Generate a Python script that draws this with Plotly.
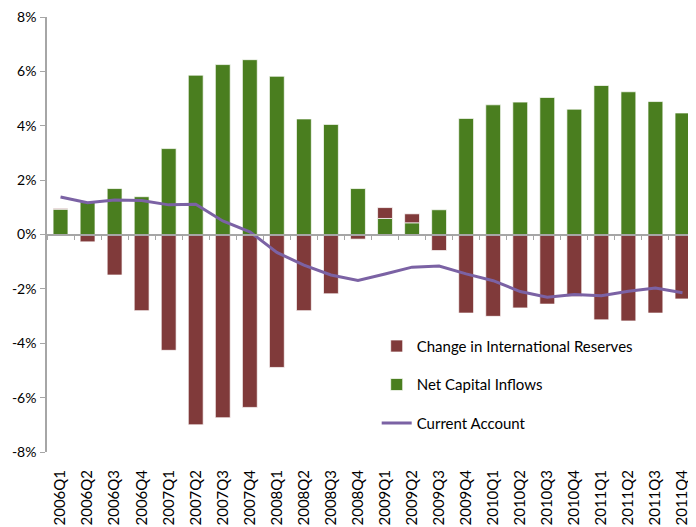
import plotly.graph_objects as go

quarters = ["2006Q1", "2006Q2", "2006Q3", "2006Q4",
            "2007Q1", "2007Q2", "2007Q3", "2007Q4",
            "2008Q1", "2008Q2", "2008Q3", "2008Q4",
            "2009Q1", "2009Q2", "2009Q3", "2009Q4",
            "2010Q1", "2010Q2", "2010Q3", "2010Q4",
            "2011Q1", "2011Q2", "2011Q3", "2011Q4"]

net_capital_inflows = [0.93, 1.20, 1.69, 1.39,
                       3.16, 5.86, 6.25, 6.43,
                       5.82, 4.25, 4.05, 1.69,
                       0.59, 0.43, 0.91, 4.27,
                       4.77, 4.87, 5.04, 4.61,
                       5.48, 5.25, 4.89, 4.47]

change_in_reserves = [0.03, -0.27, -1.49, -2.80,
                      -4.26, -7.00, -6.74, -6.36,
                      -4.89, -2.80, -2.18, -0.17,
                      0.40, 0.33, -0.59, -2.89,
                      -3.01, -2.70, -2.56, -2.28,
                      -3.14, -3.18, -2.89, -2.37]

current_account = [1.38, 1.17, 1.27, 1.25,
                   1.09, 1.11, 0.50, 0.10,
                   -0.66, -1.13, -1.49, -1.69,
                   -1.45, -1.20, -1.16, -1.45,
                   -1.70, -2.10, -2.31, -2.21,
                   -2.25, -2.09, -1.97, -2.14]

y_tick_values = [-8, -6, -4, -2, 0, 2, 4, 6, 8]
y_tick_labels = ["-8%", "-6%", "-4%", "-2%", "0%", "2%", "4%", "6%", "8%"]

RED = "#803A3A"
GREEN = "#4A7E1F"
PURPLE = "#7B62A4"
AXIS = "#A6A6A6"
FONT = "Lato"

fig = go.Figure()

fig.add_trace(go.Bar(
    x=quarters, y=net_capital_inflows, name="Net Capital Inflows",
    marker=dict(color=GREEN, line=dict(color="rgba(255,255,255,0.7)", width=1)),
    legendrank=2, legendgroup="b",
))
fig.add_trace(go.Bar(
    x=quarters, y=change_in_reserves, name="Change in International Reserves",
    marker=dict(color=RED, line=dict(color="rgba(255,255,255,0.7)", width=1)),
    legendrank=1, legendgroup="a",
))
fig.add_trace(go.Scatter(
    x=quarters, y=current_account, name="Current Account", mode="lines",
    line=dict(color=PURPLE, width=3),
    legendrank=3, legendgroup="c",
))
# invisible helper trace for the axis drawn along the zero line
fig.add_trace(go.Scatter(
    x=quarters, y=current_account, xaxis="x2", mode="lines",
    line=dict(color="rgba(0,0,0,0)", width=0), showlegend=False, hoverinfo="skip",
))

fig.update_layout(
    width=688, height=519,
    margin=dict(l=39, r=0, t=9, b=75, autoexpand=False),
    paper_bgcolor="white", plot_bgcolor="white",
    barmode="relative", bargap=0.45,
    font=dict(family=FONT, color="#000000", size=14),
    showlegend=True,
    legend=dict(
        x=0.508, y=0.281, xanchor="left", yanchor="top",
        bgcolor="rgba(0,0,0,0)", tracegroupgap=16,
        font=dict(family=FONT, size=15, color="#000000"),
    ),
    xaxis=dict(
        type="category", categoryarray=quarters, categoryorder="array",
        showline=False, showgrid=False, zeroline=False, automargin=False,
        ticks="outside", ticklen=11, tickcolor="rgba(0,0,0,0)",
        tickangle=-90, tickfont=dict(family=FONT, size=15),
    ),
    xaxis2=dict(
        type="category", categoryarray=quarters, categoryorder="array",
        overlaying="x", matches="x", anchor="free", position=0.5,
        showline=True, linecolor=AXIS, linewidth=1.5,
        ticks="outside", tickson="boundaries", ticklen=5, tickcolor=AXIS, tickwidth=1,
        showticklabels=False, showgrid=False, zeroline=False, automargin=False,
    ),
    yaxis=dict(
        range=[-8, 8], tickvals=y_tick_values, ticktext=y_tick_labels,
        showline=True, linecolor=AXIS, linewidth=1.5,
        ticks="outside", ticklen=5, tickcolor=AXIS,
        showgrid=False, zeroline=False, automargin=False,
        ticklabeloverflow="allow", ticklabelstandoff=1,
        tickfont=dict(family=FONT, size=14),
    ),
)

fig.write_html("out.html")
